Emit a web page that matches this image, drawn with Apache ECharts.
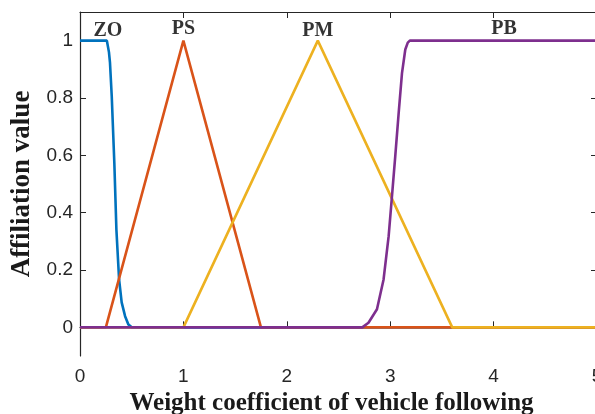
<!DOCTYPE html>
<html>
<head>
<meta charset="utf-8">
<script src="https://cdn.jsdelivr.net/npm/echarts@6/dist/echarts.min.js"></script>
<style>
  html, body { margin: 0; padding: 0; background: #ffffff; }
  #chart { width: 595px; height: 414px; }
</style>
</head>
<body>
<div id="chart"></div>
<script>
// Membership functions of the vehicle-following weight coefficient
const zoX = [0, 0.26, 0.28, 0.29, 0.307, 0.332, 0.352, 0.378, 0.403, 0.436, 0.468, 0.5, 5];
const zoY = [1, 1, 0.96, 0.923, 0.806, 0.574, 0.341, 0.167, 0.087, 0.039, 0.01, 0, 0];

const psX = [0, 0.25, 1.0, 1.75, 5];
const psY = [0, 0, 1, 0, 0];

const pmX = [0, 1.0, 2.3, 3.6, 5];
const pmY = [0, 0, 1, 0, 0];

const pbX = [0, 2.73, 2.79, 2.872, 2.936, 2.985, 3.017, 3.049, 3.082, 3.114, 3.146, 3.17, 3.19, 5];
const pbY = [0, 0, 0.016, 0.063, 0.167, 0.318, 0.457, 0.597, 0.748, 0.887, 0.969, 0.993, 1, 1];

// Fuzzy set names and where they sit above each peak
const setNames = ['ZO', 'PS', 'PM', 'PB'];
const setNameX = [0.27, 1.0, 2.3, 4.1];
const setNameY = [1.035, 1.04, 1.035, 1.04];

const yTicks = [0, 0.2, 0.4, 0.6, 0.8, 1];

const pairs = (xs, ys) => xs.map((x, i) => [x, ys[i]]);

const axisColor = '#262626';
const tickFont = { color: axisColor, fontFamily: 'Liberation Sans', fontSize: 19 };
const titleFont = { color: '#1a1a1a', fontFamily: 'Liberation Serif', fontWeight: 'bold' };

function lineSeries(name, xs, ys, color) {
  return {
    name: name,
    type: 'line',
    data: pairs(xs, ys),
    showSymbol: false,
    smooth: false,
    lineStyle: { color: color, width: 2.6 },
    itemStyle: { color: color },
    clip: false,
    animation: false
  };
}

const chart = echarts.init(document.getElementById('chart'), null, { renderer: 'canvas' });

chart.setOption({
  backgroundColor: '#ffffff',
  animation: false,
  grid: { left: 80, right: -2, top: 12, bottom: 58, outerBoundsMode: 'none', containLabel: false },
  xAxis: [
    {
      type: 'value', min: 0, max: 5, interval: 1, position: 'bottom',
      name: 'Weight coefficient of vehicle following',
      nameLocation: 'middle', nameGap: 35,
      nameTextStyle: Object.assign({ fontSize: 25, padding: [0, 14, 0, 0] }, titleFont),
      axisLine: { show: true, lineStyle: { color: axisColor, width: 1.2 } },
      axisTick: { show: true, inside: true, length: 6, lineStyle: { color: axisColor } },
      axisLabel: Object.assign({ margin: 11 }, tickFont),
      splitLine: { show: false }
    },
    {
      type: 'value', min: 0, max: 5, interval: 1, position: 'top',
      axisLine: { show: true, onZero: false, lineStyle: { color: axisColor, width: 1.2 } },
      axisTick: { show: true, inside: true, length: 6, lineStyle: { color: axisColor } },
      axisLabel: { show: false },
      splitLine: { show: false }
    }
  ],
  yAxis: [
    {
      type: 'value', min: -0.1, max: 1.1, position: 'left',
      name: 'Affiliation value',
      nameLocation: 'middle', nameGap: 37, nameRotate: 90,
      nameTextStyle: Object.assign({ fontSize: 27 }, titleFont),
      axisLine: { show: true, lineStyle: { color: axisColor, width: 1.2 } },
      axisTick: { show: true, inside: true, length: 6, customValues: yTicks, lineStyle: { color: axisColor } },
      axisLabel: Object.assign({ margin: 7, customValues: yTicks, formatter: v => String(+v.toFixed(1)) }, tickFont),
      splitLine: { show: false }
    },
    {
      type: 'value', min: -0.1, max: 1.1, position: 'right',
      axisLine: { show: true, onZero: false, lineStyle: { color: axisColor, width: 1.2 } },
      axisTick: { show: true, inside: true, length: 6, customValues: yTicks, lineStyle: { color: axisColor } },
      axisLabel: { show: false },
      splitLine: { show: false }
    }
  ],
  series: [
    lineSeries('ZO', zoX, zoY, '#0072BD'),
    lineSeries('PS', psX, psY, '#D95319'),
    lineSeries('PM', pmX, pmY, '#EDB120'),
    lineSeries('PB', pbX, pbY, '#7E2F8E'),
    {
      name: 'set names',
      type: 'scatter',
      symbolSize: 0,
      data: setNames.map((n, i) => ({ value: [setNameX[i], setNameY[i]], name: n })),
      label: {
        show: true, position: 'inside',
        formatter: p => p.name,
        color: '#000000', fontFamily: 'Liberation Serif', fontWeight: 'bold', fontSize: 20
      },
      silent: true,
      animation: false
    }
  ]
});
</script>
</body>
</html>
